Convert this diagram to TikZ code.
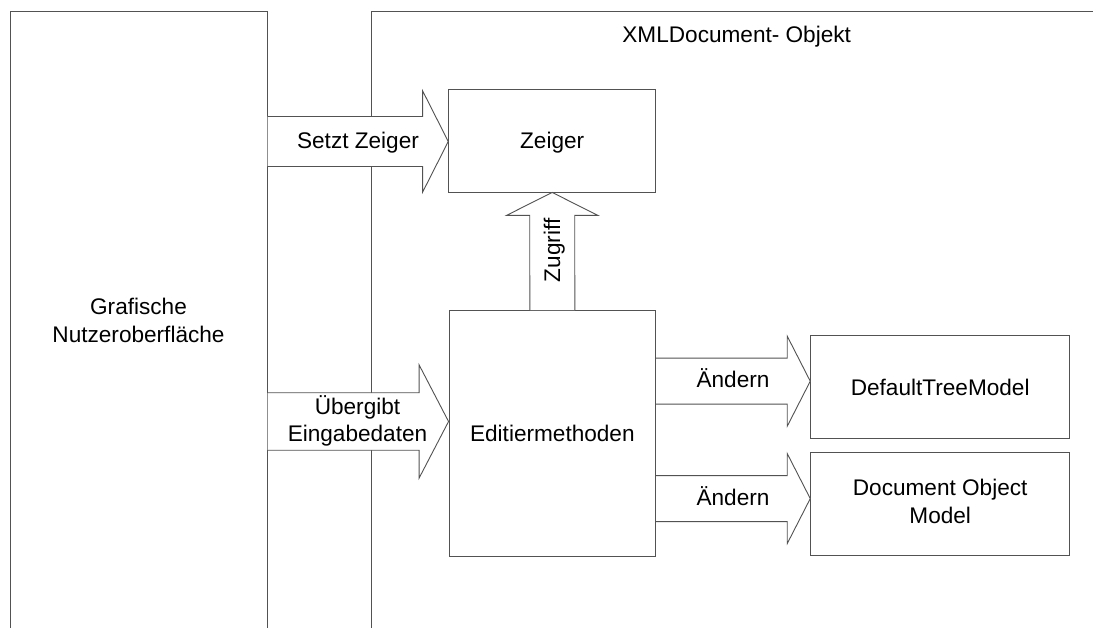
\documentclass[tikz,border=0pt]{standalone}
\usepackage{fontspec}
\setmainfont{Liberation Sans}
\usetikzlibrary{calc}

\newcommand{\diagfont}{\fontsize{22.6}{27.4}\selectfont}
\newcommand{\twolines}[2]{\begin{tabular}[b]{@{}c@{}}#1\\#2\end{tabular}}

\tikzset{
  edge/.style={draw=black!68, line width=0.9pt},
  box/.style={edge, fill=white, rectangle, inner sep=0pt, font=\diagfont},
  onebox/.style={box, text height=16.2pt, text depth=0pt},
  lbl/.style={inner sep=0pt, anchor=base, font=\diagfont},
  blockarrow/.style={edge, fill=white, line join=miter},
}

% horizontal block arrow: tail, tip, shaft half width, head half width, head length
\newcommand{\harrow}[5]{%
  \draw[blockarrow] ($(#1)+(0,-#3)$) -- ($(#2)+(-#5,-#3)$) -- ($(#2)+(-#5,-#4)$)
    -- (#2) -- ($(#2)+(-#5,#4)$) -- ($(#2)+(-#5,#3)$) -- ($(#1)+(0,#3)$);}
% upward block arrow: tail (bottom), tip (top), shaft half width, head half width, head length
\newcommand{\uarrow}[5]{%
  \draw[blockarrow] ($(#1)+(-#3,0)$) -- ($(#2)+(-#3,#5)$) -- ($(#2)+(-#4,#5)$)
    -- (#2) -- ($(#2)+(#4,#5)$) -- ($(#2)+(#3,#5)$) -- ($(#1)+(#3,0)$);}

\begin{document}
\begin{tikzpicture}[x=1pt, y=-1pt]
  \useasboundingbox (0,0) rectangle (1093,628);

  % the two open panels
  \draw[edge] (10,632) -- (10,11.3) -- (267.5,11.3) -- (267.5,632);
  \draw[edge] (371,632) -- (371,11.3) -- (1097,11.3);
  \coordinate (guiR) at (267.5,300);

  \node[lbl] (guilabel) at (138.5,342.3) {\twolines{Grafische}{Nutzeroberfläche}};
  \node[lbl] (xmllabel) at (736.7,42.3) {XMLDocument- Objekt};

  % boxes
  \node[onebox, minimum width=207pt, minimum height=103pt] (zeiger) at (552.2,140.5) {Zeiger};
  \node[onebox, minimum width=206.7pt, minimum height=245.3pt] (editier) at (552.35,433.35) {Editiermethoden};
  \node[onebox, minimum width=259pt, minimum height=102.6pt] (dtm) at (940.2,387) {DefaultTreeModel};
  \node[box, minimum width=259pt, minimum height=103pt] (dom) at (940.2,504.2) {\twolines{Document Object}{Model}};

  % arrow end points
  \coordinate (t1) at (guiR |- 0,141.5);
  \coordinate (h1) at (zeiger.west |- t1);
  \coordinate (t2) at (guiR |- 0,421.5);
  \coordinate (h2) at (editier.west |- t2);
  \coordinate (t3) at (editier.east |- 0,381.2);
  \coordinate (h3) at (dtm.west |- t3);
  \coordinate (t4) at (editier.east |- 0,498.6);
  \coordinate (h4) at (dom.west |- t4);

  % block arrows
  \harrow{t1}{h1}{25}{50.8}{25.7}
  \harrow{t2}{h2}{28.7}{56.7}{29.5}
  \harrow{t3}{h3}{23}{45}{23}
  \harrow{t4}{h4}{23}{45}{23}
  \uarrow{editier.north}{zeiger.south}{22.5}{45.8}{23}

  % arrow labels
  \node[lbl] (l1) at (358,148.3) {Setzt Zeiger};
  \node[lbl] (l2) at (357.5,441.7) {\twolines{Übergibt}{Eingabedaten}};
  \node[lbl] (l3) at (733,387.7) {Ändern};
  \node[lbl] (l4) at (733,505) {Ändern};
  \node[lbl, rotate=90] (l5) at (560,250.5) {Zugriff};
\end{tikzpicture}
\end{document}
